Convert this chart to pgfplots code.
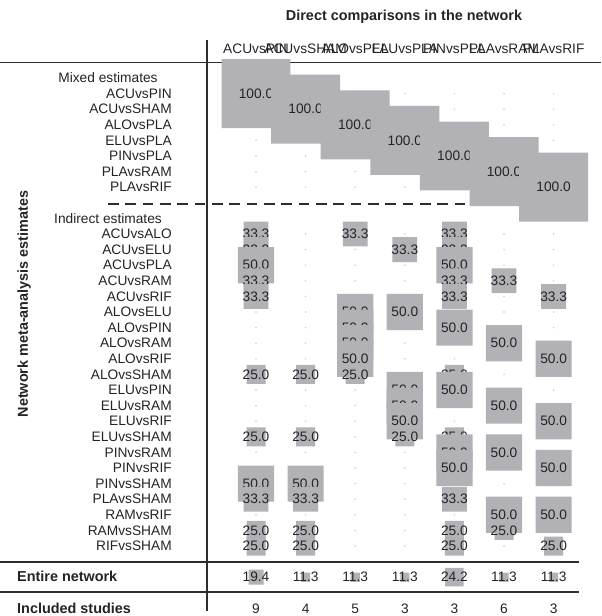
\documentclass[border=0pt]{standalone}
\usepackage{fontspec}
\setmainfont{Liberation Sans}
\usepackage{pgfplots}
\pgfplotsset{compat=1.18}
\usepackage{pgfplotstable}

\definecolor{boxgray}{RGB}{177,177,182}
\definecolor{ink}{RGB}{35,35,40}
\definecolor{rulecol}{RGB}{45,45,45}
\definecolor{dotgray}{RGB}{210,210,210}

\newcommand\numfont{\fontsize{10.3}{12}\selectfont}
\newcommand\headfont{\fontsize{10.8}{13}\selectfont\bfseries}

% contribution box: side grows with the percentage, rounded corners
\pgfdeclareplotmark{cbox}{%
  \pgfmathsetmacro\hs{7.125*(\val/25)^0.93}%
  \pgfsetcornersarced{\pgfpoint{1.1pt}{1.1pt}}%
  \pgfpathmoveto{\pgfpoint{-\hs pt}{0pt}}%
  \pgfpathlineto{\pgfpoint{-\hs pt}{\hs pt}}%
  \pgfpathlineto{\pgfpoint{\hs pt}{\hs pt}}%
  \pgfpathlineto{\pgfpoint{\hs pt}{-\hs pt}}%
  \pgfpathlineto{\pgfpoint{-\hs pt}{-\hs pt}}%
  \pgfpathclose
  \pgfusepathqfill}

\pgfplotsset{
  cell/.style={only marks, mark=cbox, color=boxgray,
    visualization depends on={\thisrow{v}\as\val},
    point meta=\thisrow{v},
    nodes near coords={\pgfmathprintnumber[fixed,fixed zerofill,precision=1,assume math mode=true]{\pgfplotspointmeta}},
    nodes near coords style={anchor=center, text=ink, font=\numfont,
      inner sep=0pt, text height=0.716em, text depth=0pt}},
  dots/.style={only marks, mark=*, mark size=0.4pt, color=dotgray},
  rule/.style={no marks, color=rulecol, line width=1pt},
}

% positions of the estimate rows (mixed 1-7, indirect 10-30)
\pgfplotstableread{
r
1
2
3
4
5
6
7
10
11
12
13
14
15
16
17
18
19
20
21
22
23
24
25
26
27
28
29
30
}\dotrows

\tikzset{lab/.style={font=\numfont, text=ink, inner sep=0pt, text height=0.716em, text depth=0pt},
         rowlab/.style={lab, anchor=east},
         bold/.style={font=\headfont, text=ink, inner sep=0pt, text height=0.716em, text depth=0pt}}

\begin{document}
\begin{tikzpicture}
\useasboundingbox (0,0) rectangle (450.75pt,462pt);
\begin{axis}[at={(0,0)}, anchor=south west, scale only axis,
  width=450.75pt, height=462pt,
  xmin=-4.1613, xmax=7.9556, ymin=-5, ymax=34.487, y dir=reverse,
  hide axis, clip=false, /pgf/number format/assume math mode=true]

% rules
\addplot[rule] coordinates {(-4.1613,-1) (7.9556,-1)};
\addplot[rule] coordinates {(0.0121,-2.44) (0.0121,34.17)};
\addplot[rule] coordinates {(-4.1613,31.03) (7.512,31.03)};
\addplot[rule] coordinates {(-4.1613,32.95) (7.512,32.95)};
\addplot[no marks, color=rulecol, line width=1.3pt, dash pattern=on 8pt off 5pt]
  coordinates {(-1.984,8.08) (7.6,8.08)};

% empty-cell dots
\addplot[dots] table[x expr=1, y=r] {\dotrows};
\addplot[dots] table[x expr=2, y=r] {\dotrows};
\addplot[dots] table[x expr=3, y=r] {\dotrows};
\addplot[dots] table[x expr=4, y=r] {\dotrows};
\addplot[dots] table[x expr=5, y=r] {\dotrows};
\addplot[dots] table[x expr=6, y=r] {\dotrows};
\addplot[dots] table[x expr=7, y=r] {\dotrows};

% mixed estimates
\addplot[cell] table {x y v
1 1 100
};
\addplot[cell] table {x y v
2 2 100
};
\addplot[cell] table {x y v
3 3 100
};
\addplot[cell] table {x y v
4 4 100
};
\addplot[cell] table {x y v
5 5 100
};
\addplot[cell] table {x y v
6 6 100
};
\addplot[cell] table {x y v
7 7 100
};

% indirect estimates
\addplot[cell] table {x y v
1 10 33.3
3 10 33.3
5 10 33.3
};
\addplot[cell] table {x y v
1 11 33.3
4 11 33.3
5 11 33.3
};
\addplot[cell] table {x y v
1 12 50
5 12 50
};
\addplot[cell] table {x y v
1 13 33.3
5 13 33.3
6 13 33.3
};
\addplot[cell] table {x y v
1 14 33.3
5 14 33.3
7 14 33.3
};
\addplot[cell] table {x y v
3 15 50
4 15 50
};
\addplot[cell] table {x y v
3 16 50
5 16 50
};
\addplot[cell] table {x y v
3 17 50
6 17 50
};
\addplot[cell] table {x y v
3 18 50
7 18 50
};
\addplot[cell] table {x y v
1 19 25
2 19 25
3 19 25
5 19 25
};
\addplot[cell] table {x y v
4 20 50
5 20 50
};
\addplot[cell] table {x y v
4 21 50
6 21 50
};
\addplot[cell] table {x y v
4 22 50
7 22 50
};
\addplot[cell] table {x y v
1 23 25
2 23 25
4 23 25
5 23 25
};
\addplot[cell] table {x y v
5 24 50
6 24 50
};
\addplot[cell] table {x y v
5 25 50
7 25 50
};
\addplot[cell] table {x y v
1 26 50
2 26 50
};
\addplot[cell] table {x y v
1 27 33.3
2 27 33.3
5 27 33.3
};
\addplot[cell] table {x y v
6 28 50
7 28 50
};
\addplot[cell] table {x y v
1 29 25
2 29 25
5 29 25
6 29 25
};
\addplot[cell] table {x y v
1 30 25
2 30 25
5 30 25
7 30 25
};

% entire network
\addplot[cell] table {x y v
1 32 19.4
2 32 11.3
3 32 11.3
4 32 11.3
5 32 24.2
6 32 11.3
7 32 11.3
};

% included studies
\addplot[draw=none, mark=none, point meta=explicit,
  nodes near coords={\pgfmathprintnumber[assume math mode=true]{\pgfplotspointmeta}},
  nodes near coords style={anchor=center, text=ink, font=\numfont,
    inner sep=0pt, text height=0.716em, text depth=0pt}]
  table[meta=n] {x y n
1 34 9
2 34 4
3 34 5
4 34 3
5 34 3
6 34 6
7 34 3
};

% titles and headers
\node[bold] at (axis cs:3.984,-3.97) {Direct comparisons in the network};
\node[lab] at (axis cs:1,-1.85) {ACUvsPIN};
\node[lab] at (axis cs:2,-1.85) {ACUvsSHAM};
\node[lab] at (axis cs:3,-1.85) {ALOvsPLA};
\node[lab] at (axis cs:4,-1.85) {ELUvsPLA};
\node[lab] at (axis cs:5,-1.85) {PINvsPLA};
\node[lab] at (axis cs:6,-1.85) {PLAvsRAM};
\node[lab] at (axis cs:7,-1.85) {PLAvsRIF};

\node[bold, rotate=90] at (axis cs:-3.698,14.49) {Network meta-analysis estimates};
\node[lab] at (axis cs:-1.984,0) {Mixed estimates};
\node[lab] at (axis cs:-1.984,9) {Indirect estimates};
\node[bold, anchor=west] at (axis cs:-3.819,32) {Entire network};
\node[bold, anchor=west] at (axis cs:-3.819,34) {Included studies};

\node[rowlab] at (axis cs:-0.6935,1) {ACUvsPIN};
\node[rowlab] at (axis cs:-0.6935,2) {ACUvsSHAM};
\node[rowlab] at (axis cs:-0.6935,3) {ALOvsPLA};
\node[rowlab] at (axis cs:-0.6935,4) {ELUvsPLA};
\node[rowlab] at (axis cs:-0.6935,5) {PINvsPLA};
\node[rowlab] at (axis cs:-0.6935,6) {PLAvsRAM};
\node[rowlab] at (axis cs:-0.6935,7) {PLAvsRIF};

\node[rowlab] at (axis cs:-0.6935,10) {ACUvsALO};
\node[rowlab] at (axis cs:-0.6935,11) {ACUvsELU};
\node[rowlab] at (axis cs:-0.6935,12) {ACUvsPLA};
\node[rowlab] at (axis cs:-0.6935,13) {ACUvsRAM};
\node[rowlab] at (axis cs:-0.6935,14) {ACUvsRIF};
\node[rowlab] at (axis cs:-0.6935,15) {ALOvsELU};
\node[rowlab] at (axis cs:-0.6935,16) {ALOvsPIN};
\node[rowlab] at (axis cs:-0.6935,17) {ALOvsRAM};
\node[rowlab] at (axis cs:-0.6935,18) {ALOvsRIF};
\node[rowlab] at (axis cs:-0.6935,19) {ALOvsSHAM};
\node[rowlab] at (axis cs:-0.6935,20) {ELUvsPIN};
\node[rowlab] at (axis cs:-0.6935,21) {ELUvsRAM};
\node[rowlab] at (axis cs:-0.6935,22) {ELUvsRIF};
\node[rowlab] at (axis cs:-0.6935,23) {ELUvsSHAM};
\node[rowlab] at (axis cs:-0.6935,24) {PINvsRAM};
\node[rowlab] at (axis cs:-0.6935,25) {PINvsRIF};
\node[rowlab] at (axis cs:-0.6935,26) {PINvsSHAM};
\node[rowlab] at (axis cs:-0.6935,27) {PLAvsSHAM};
\node[rowlab] at (axis cs:-0.6935,28) {RAMvsRIF};
\node[rowlab] at (axis cs:-0.6935,29) {RAMvsSHAM};
\node[rowlab] at (axis cs:-0.6935,30) {RIFvsSHAM};
\end{axis}
\end{tikzpicture}
\end{document}
